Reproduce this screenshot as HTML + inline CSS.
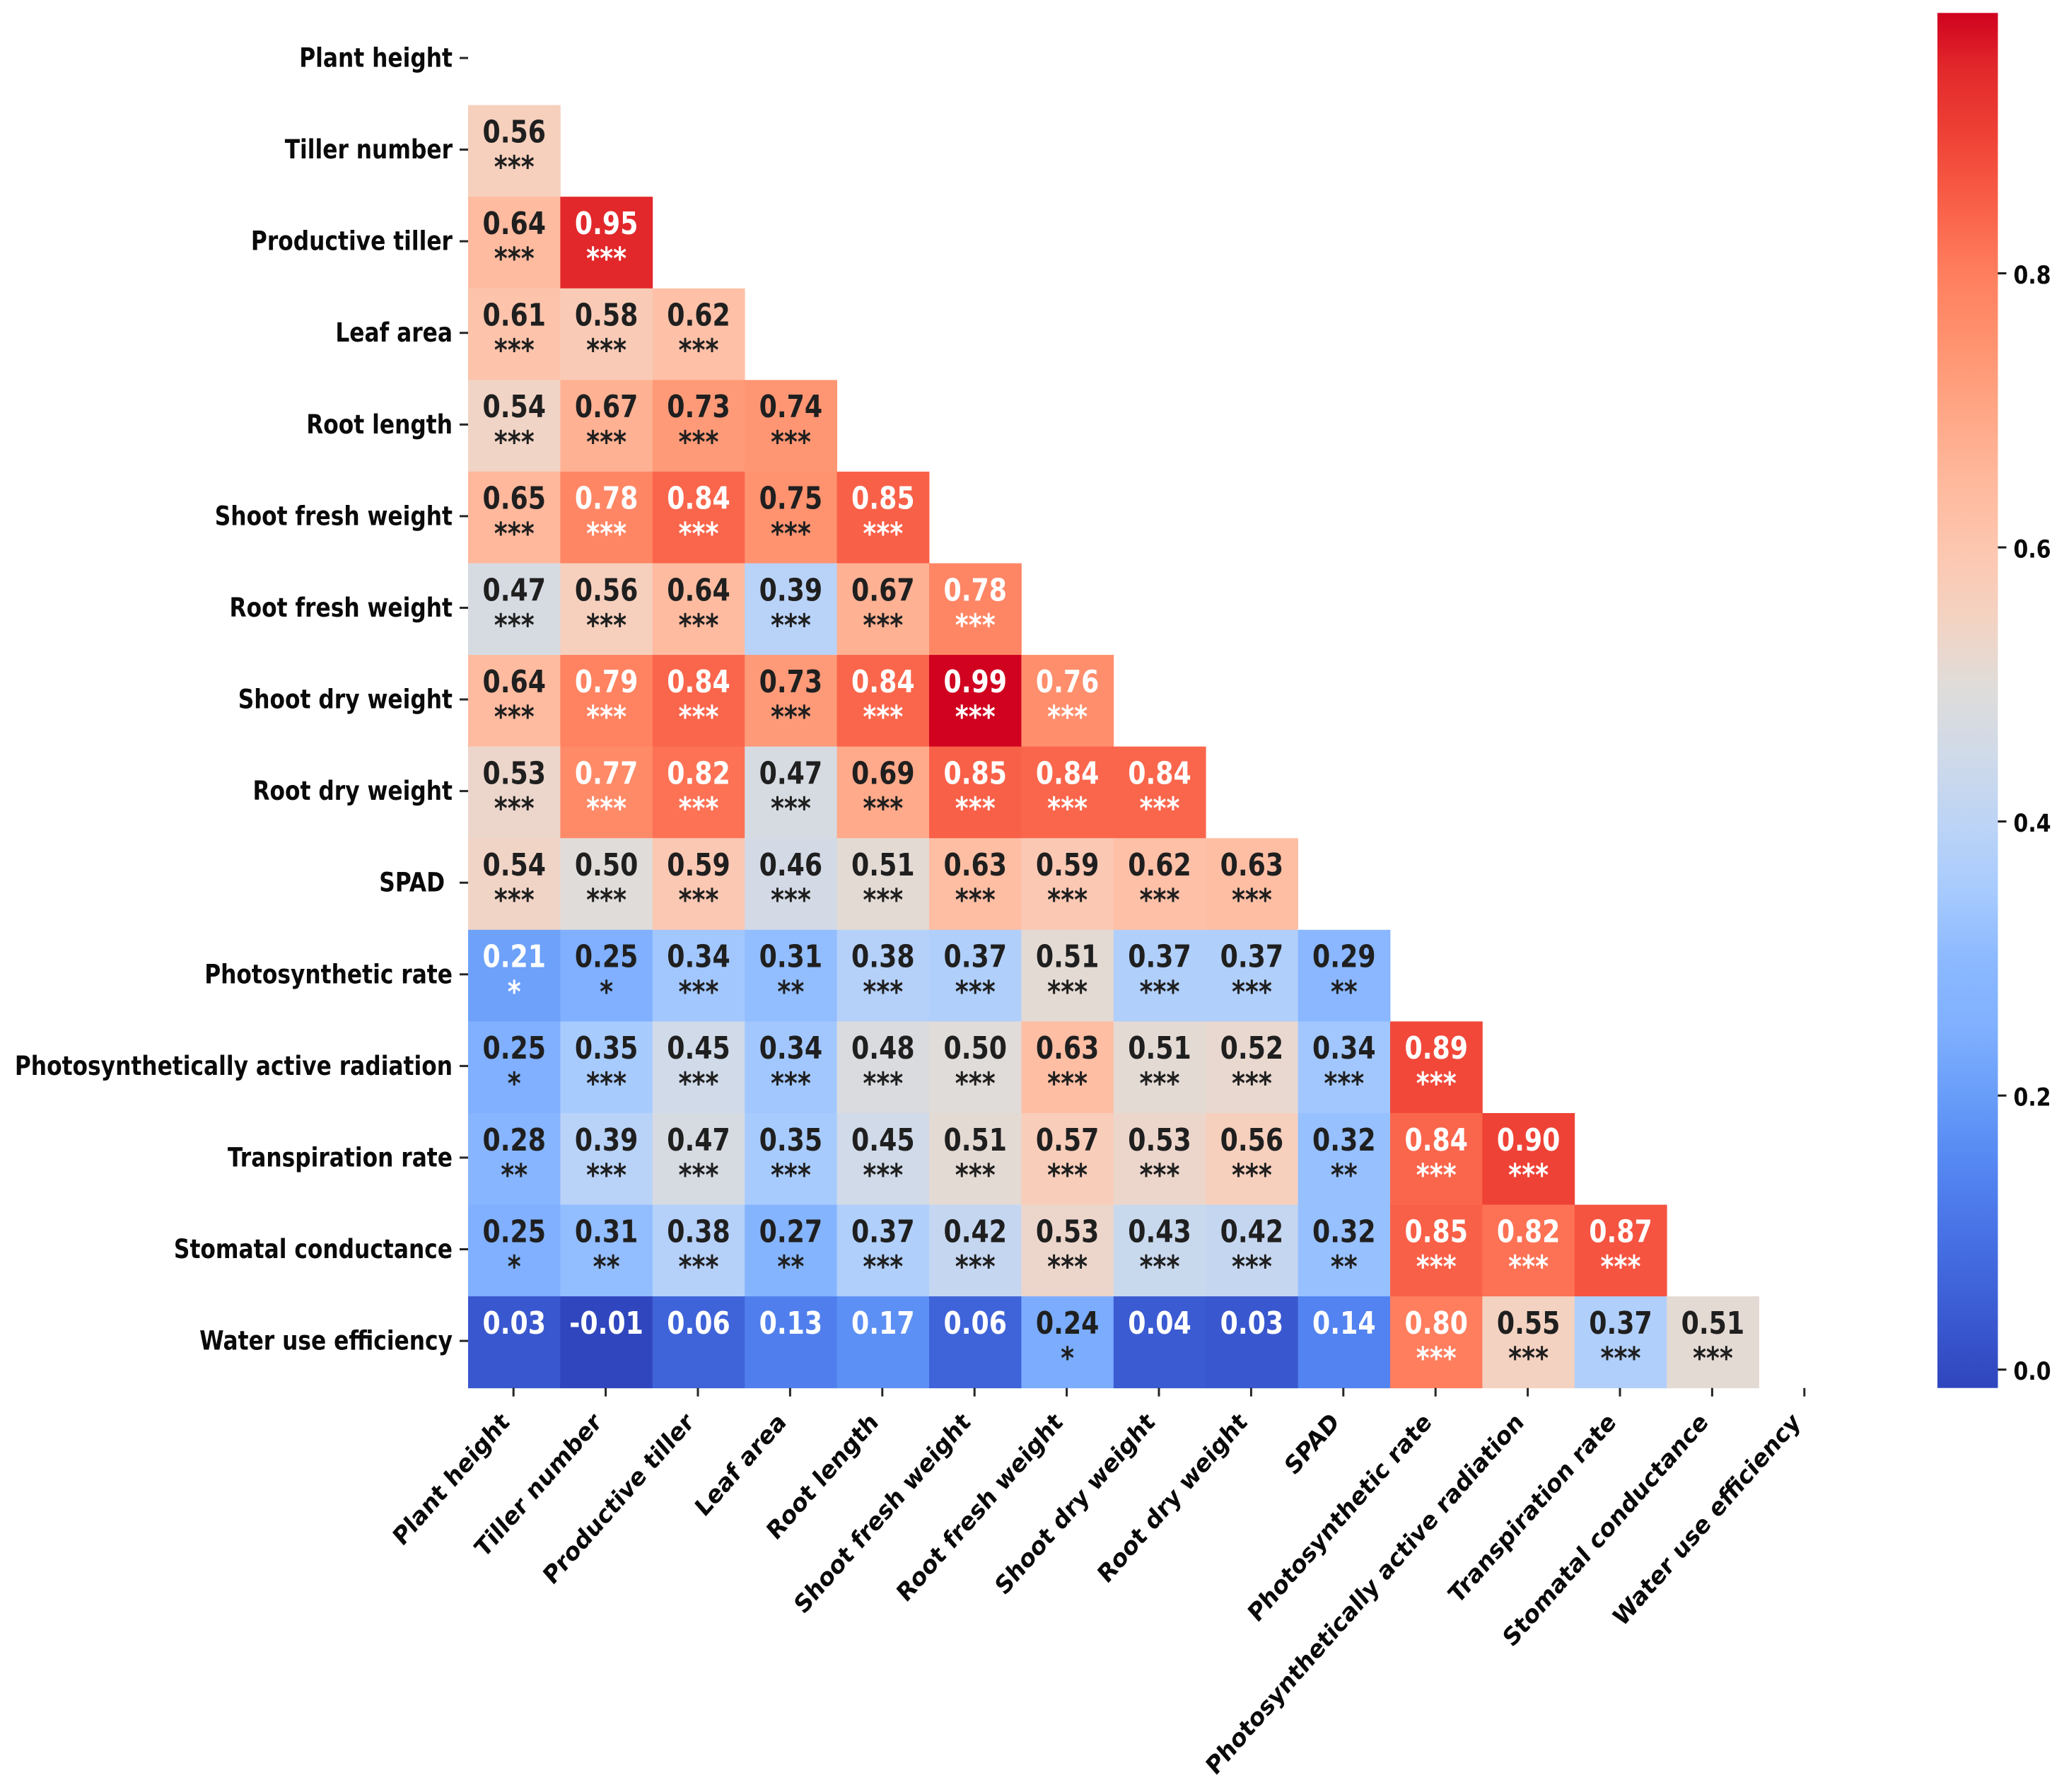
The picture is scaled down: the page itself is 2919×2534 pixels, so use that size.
<!DOCTYPE html>
<html lang="en">
<head>
<meta charset="utf-8">
<title>Trait correlation heatmap</title>
<style>
html,body{margin:0;padding:0;background:#fff;}
svg{display:block;font-family:"DejaVu Sans","Liberation Sans",sans-serif;font-weight:700;}
</style>
</head>
<body>
<svg id="chart" xmlns="http://www.w3.org/2000/svg" width="2919" height="2534" viewBox="0 0 2919 2534">
<rect x="0" y="0" width="2919" height="2534" fill="#ffffff"/>
<defs><linearGradient id="cbar-gradient" x1="0" y1="1" x2="0" y2="0"></linearGradient></defs>
<g id="cells"></g>
<g id="annotations"></g>
<g id="y-axis"></g>
<g id="x-axis"></g>
<g id="colorbar"></g>
</svg>
<script>
const categories = ["Plant height","Tiller number","Productive tiller","Leaf area","Root length","Shoot fresh weight","Root fresh weight","Shoot dry weight","Root dry weight","SPAD ","Photosynthetic rate","Photosynthetically active radiation","Transpiration rate","Stomatal conductance","Water use efficiency"];
const correlations = [
  [],
  [0.56],
  [0.64,0.95],
  [0.61,0.58,0.62],
  [0.54,0.67,0.73,0.74],
  [0.65,0.78,0.84,0.75,0.85],
  [0.47,0.56,0.64,0.39,0.67,0.78],
  [0.64,0.79,0.84,0.73,0.84,0.99,0.76],
  [0.53,0.77,0.82,0.47,0.69,0.85,0.84,0.84],
  [0.54,0.50,0.59,0.46,0.51,0.63,0.59,0.62,0.63],
  [0.21,0.25,0.34,0.31,0.38,0.37,0.51,0.37,0.37,0.29],
  [0.25,0.35,0.45,0.34,0.48,0.50,0.63,0.51,0.52,0.34,0.89],
  [0.28,0.39,0.47,0.35,0.45,0.51,0.57,0.53,0.56,0.32,0.84,0.90],
  [0.25,0.31,0.38,0.27,0.37,0.42,0.53,0.43,0.42,0.32,0.85,0.82,0.87],
  [0.03,-0.01,0.06,0.13,0.17,0.06,0.24,0.04,0.03,0.14,0.80,0.55,0.37,0.51]
];
const significance = [
  [],
  ["***"],
  ["***","***"],
  ["***","***","***"],
  ["***","***","***","***"],
  ["***","***","***","***","***"],
  ["***","***","***","***","***","***"],
  ["***","***","***","***","***","***","***"],
  ["***","***","***","***","***","***","***","***"],
  ["***","***","***","***","***","***","***","***","***"],
  ["*","*","***","**","***","***","***","***","***","**"],
  ["*","***","***","***","***","***","***","***","***","***","***"],
  ["**","***","***","***","***","***","***","***","***","**","***","***"],
  ["*","**","***","**","***","***","***","***","***","**","***","***","***"],
  ["","","","","","","*","","","","***","***","***","***"]
];
const colorbarTicks = [0.0,0.2,0.4,0.6,0.8];
const colorDomain = [-0.0134,0.99];
const colormapValues = [-0.0134,0.05,0.1,0.15,0.2,0.25,0.3,0.35,0.4,0.45,0.5,0.55,0.6,0.65,0.7,0.75,0.8,0.85,0.9,0.95,0.99];
const colormapColors = ["#2f45bd","#3d5fd6","#4872e6","#5587f2","#689df9","#80b0ff","#8cb9ff","#a8cbfe","#bdd4f5","#d0dae8","#e0dcd9","#f4d2c1","#fdc6af","#ffb89c","#ffa685","#ff926f","#ff7e5e","#f96048","#ef4236","#e2282b","#d0021f"];

const SVG_NS = "http://www.w3.org/2000/svg";
const plot = {left:662, top:19, cellW:130.4, cellH:129.58};
const cbar = {left:2740, right:2825.5, top:18.3, bottom:1962.7};
const stretch = 1.2;
const xLabelStretch = 1.14;

function xScale(i){ return plot.left + i*plot.cellW; }
function yScale(i){ return plot.top + i*plot.cellH; }
function cbarScale(v){
  return cbar.bottom - (v-colorDomain[0])/(colorDomain[1]-colorDomain[0])*(cbar.bottom-cbar.top);
}
function hexToRgb(h){ return [1,3,5].map(k=>parseInt(h.substr(k,2),16)); }
function colorFor(v){
  const n = colormapValues.length;
  if(v<=colormapValues[0]) return colormapColors[0];
  if(v>=colormapValues[n-1]) return colormapColors[n-1];
  let k=0;
  while(v>colormapValues[k+1]) k++;
  const t=(v-colormapValues[k])/(colormapValues[k+1]-colormapValues[k]);
  const a=hexToRgb(colormapColors[k]), b=hexToRgb(colormapColors[k+1]);
  return "rgb("+a.map((c,m)=>Math.round(c+(b[m]-c)*t)).join(",")+")";
}
function textColorFor(v){ return (v>0.755||v<0.235) ? "#ffffff" : "#1f1f1f"; }
function make(tag, attrs, parent, txt){
  const el=document.createElementNS(SVG_NS,tag);
  for(const k in attrs) el.setAttribute(k,attrs[k]);
  if(txt!==undefined) el.textContent=txt;
  parent.appendChild(el);
  return el;
}
function stretched(x,y){ return "translate("+x+","+y+") scale(1,"+stretch+")"; }

const cellsG=document.getElementById("cells");
const annG=document.getElementById("annotations");
const yG=document.getElementById("y-axis");
const xG=document.getElementById("x-axis");
const cbG=document.getElementById("colorbar");

correlations.forEach((row,r)=>{
  row.forEach((v,c)=>{
    const rect=make("rect",{x:xScale(c),y:yScale(r),width:plot.cellW+0.4,height:plot.cellH+0.4,fill:colorFor(v)},cellsG);
    
    
    const cx=xScale(c)+plot.cellW/2;
    const fill=textColorFor(v);
    const label=make("text",{transform:stretched(cx,yScale(r)+52.8),"text-anchor":"middle","font-size":36.3,fill:fill},annG,v.toFixed(2));
    
    
    const sig=significance[r][c];
    if(sig){
      const stars=make("text",{transform:stretched(cx,yScale(r)+102.5),"text-anchor":"middle","font-size":36.3,fill:fill},annG,sig);
      
      
    }
  });
});

categories.forEach((name,i)=>{
  const ty=yScale(i)+plot.cellH/2-1.8;
  const tick=make("line",{x1:plot.left-12,x2:plot.left,y1:ty,y2:ty,stroke:"#262626","stroke-width":3},yG);
  
  
  const lab=make("text",{transform:stretched(plot.left-22,ty+12.5),"text-anchor":"end","font-size":31.3,fill:"#0a0a0a","xml:space":"preserve"},yG,name);
  lab.style.whiteSpace="pre";
  
  

  const tx=xScale(i)+plot.cellW/2-1;
  const xt=make("line",{x1:tx,x2:tx,y1:plot.top+15*plot.cellH,y2:plot.top+15*plot.cellH+12,stroke:"#262626","stroke-width":3},xG);
  
  
  const xl=make("text",{"text-anchor":"end","font-size":31.3,fill:"#0a0a0a",transform:"translate("+(tx-4)+",2013) scale(1,"+xLabelStretch+") rotate(-45)"},xG,name.trim());
  
  
});

const grad=document.getElementById("cbar-gradient");
colormapValues.forEach((v,i)=>{
  const off=(v-colorDomain[0])/(colorDomain[1]-colorDomain[0]);
  make("stop",{offset:off,"stop-color":colormapColors[i]},grad);
});
const bar=make("rect",{x:cbar.left,y:cbar.top,width:cbar.right-cbar.left,height:cbar.bottom-cbar.top,fill:"url(#cbar-gradient)"},cbG);


colorbarTicks.forEach(v=>{
  const y=cbarScale(v);
  const t=make("line",{x1:cbar.right,x2:cbar.right+12,y1:y,y2:y,stroke:"#1a1a1a","stroke-width":3},cbG);
  
  
  const l=make("text",{transform:"translate("+(cbar.right+22)+","+(y+14.5)+") scale(1,1.15)","font-size":30,fill:"#0a0a0a"},cbG,v.toFixed(1));
  
  
});
</script>
</body>
</html>
